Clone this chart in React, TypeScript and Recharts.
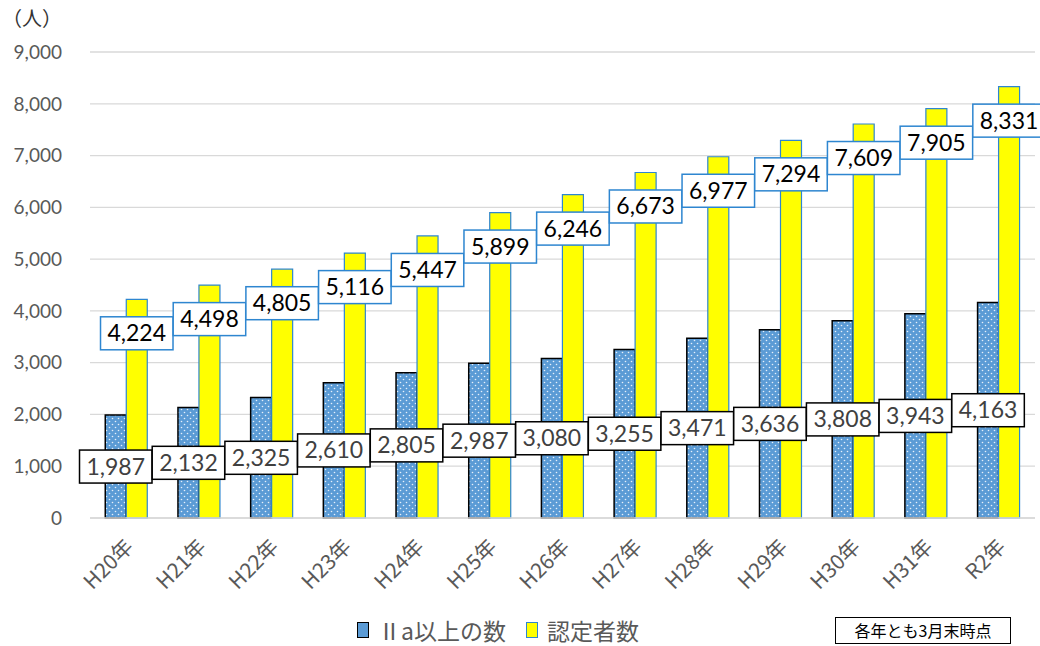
import { BarChart, Bar, XAxis, YAxis, CartesianGrid, LabelList } from "recharts";

const years = ["H20年", "H21年", "H22年", "H23年", "H24年", "H25年", "H26年", "H27年", "H28年", "H29年", "H30年", "H31年", "R2年"];
const over2a = [1987, 2132, 2325, 2610, 2805, 2987, 3080, 3255, 3471, 3636, 3808, 3943, 4163];
const certified = [4224, 4498, 4805, 5116, 5447, 5899, 6246, 6673, 6977, 7294, 7609, 7905, 8331];
const yTicks = [0, 1000, 2000, 3000, 4000, 5000, 6000, 7000, 8000, 9000];

const data = years.map((year, i) => ({ year, over2a: over2a[i], certified: certified[i] }));

const numFont = "Lato, 'Noto Sans CJK JP', sans-serif";
const jpFont = "'Noto Sans CJK JP', sans-serif";
const fmt = (v: number) => v.toLocaleString("en-US");

function boxLabel(kind: "blue" | "yellow") {
  return (props: any) => {
    const { x, y, width, height, value } = props;
    const text = fmt(Number(value));
    const w = text.length * 12.5 + 10;
    const h = 33;
    const cx = Number(x) + Number(width) / 2;
    const cy = kind === "blue" ? Number(y) + Number(height) / 2 : Number(y) + 34;
    return (
      <g>
        <rect
          x={cx - w / 2}
          y={cy - h / 2}
          width={w}
          height={h}
          fill="#fff"
          stroke={kind === "blue" ? "#000" : "#2E86D0"}
          strokeWidth={1.5}
        />
        <text
          x={cx}
          y={cy + 8}
          textAnchor="middle"
          fontSize={23}
          fontFamily={numFont}
          fill={kind === "blue" ? "#404040" : "#000"}
        >
          {text}
        </text>
      </g>
    );
  };
}

function XTick(props: any) {
  const { x, y, payload } = props;
  return (
    <g transform={`translate(${x + 4},${y + 18})`}>
      <text transform="rotate(-45)" textAnchor="end" fontSize={21} fontFamily={jpFont} fill="#595959" dy={6}>
        {payload.value}
      </text>
    </g>
  );
}

export default function App() {
  return (
    <div style={{ position: "absolute", left: 0, top: 0, width: 1040, height: 646, background: "#fff" }}>
      <div style={{ position: "absolute", left: 2, top: 3, fontSize: 20, fontFamily: jpFont, color: "#333" }}>（人）</div>
      <BarChart
        width={1040}
        height={646}
        data={data}
        margin={{ top: 52, right: 5, left: 0, bottom: 58 }}
        barCategoryGap="21%"
        barGap={0}
      >
        <defs>
          <pattern id="dots" width="6" height="6" patternUnits="userSpaceOnUse">
            <rect width="6" height="6" fill="#5B9BD5" />
            <circle cx="1.5" cy="1.5" r="0.8" fill="#E6F0FA" />
            <circle cx="4.5" cy="4.5" r="0.8" fill="#E6F0FA" />
          </pattern>
        </defs>
        <CartesianGrid vertical={false} stroke="#D9D9D9" strokeWidth={1.3} />
        <XAxis
          dataKey="year"
          tick={<XTick />}
          tickLine={false}
          axisLine={{ stroke: "#D9D9D9", strokeWidth: 1.3 }}
          height={70}
          interval={0}
        />
        <YAxis
          width={90}
          domain={[0, 9000]}
          ticks={yTicks}
          tickFormatter={fmt}
          tickLine={false}
          axisLine={false}
          tickMargin={22}
          tick={{ fontSize: 19, fill: "#595959", fontFamily: numFont }}
        />
        <Bar dataKey="over2a" fill="url(#dots)" stroke="#000" strokeWidth={1.5} isAnimationActive={false}>
          <LabelList dataKey="over2a" content={boxLabel("blue")} />
        </Bar>
        <Bar dataKey="certified" fill="#FFFF00" stroke="#2E86D0" strokeWidth={1.2} isAnimationActive={false}>
          <LabelList dataKey="certified" content={boxLabel("yellow")} />
        </Bar>
      </BarChart>
      <div style={{ position: "absolute", left: 357, top: 613, display: "flex", alignItems: "center", fontSize: 23, fontFamily: jpFont, color: "#595959" }}>
        <span style={{ display: "inline-block", width: 10, height: 14, background: "#5B9BD5", border: "1.5px solid #000", marginRight: 9 }} />
        <span>Ⅱa以上の数</span>
        <span style={{ display: "inline-block", width: 10, height: 14, background: "#FFFF00", border: "1.5px solid #2E86D0", marginLeft: 20, marginRight: 9 }} />
        <span>認定者数</span>
      </div>
      <div style={{ position: "absolute", left: 835, top: 617, width: 176, height: 27, boxSizing: "border-box", border: "1px solid #000", fontSize: 16, fontFamily: jpFont, color: "#000", textAlign: "center", lineHeight: "25px" }}>
        各年とも3月末時点
      </div>
    </div>
  );
}
